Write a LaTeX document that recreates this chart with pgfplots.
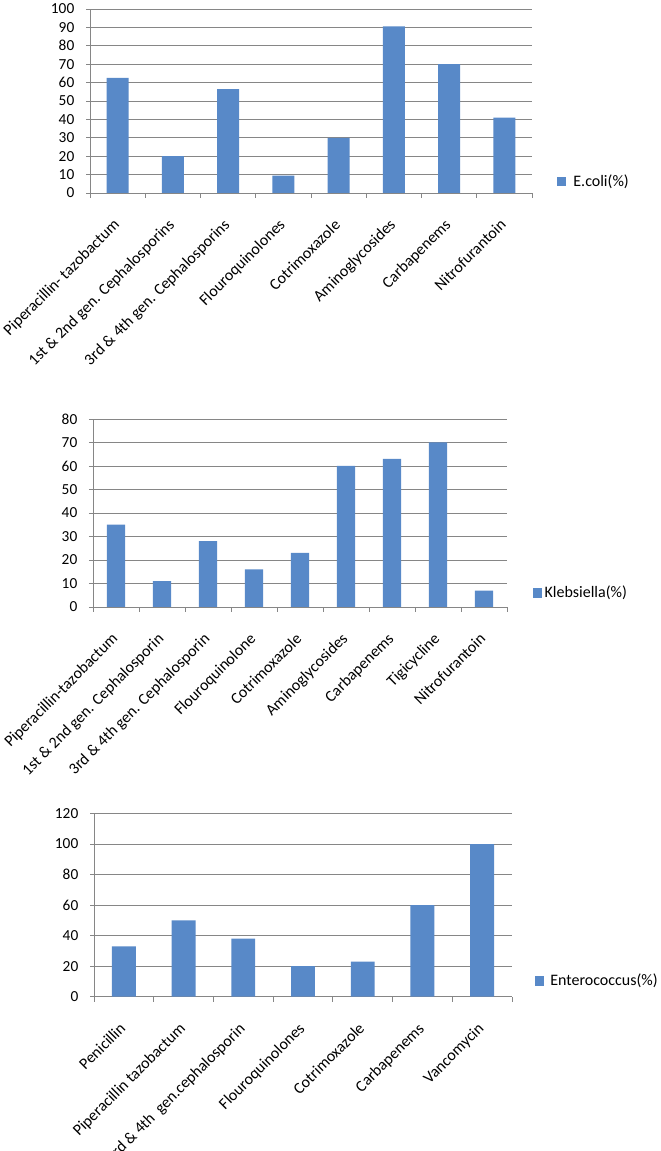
\documentclass[border=0pt]{standalone}
\usepackage{pgfplots}
\pgfplotsset{compat=1.18}
\usepackage{fontspec}
\setmainfont{Carlito}

\definecolor{barblue}{RGB}{88,137,200}
\definecolor{gridgray}{RGB}{134,134,134}

\pgfplotsset{
  excelbar/.style={
    scale only axis,
    ybar,
    bar width=0.4,
    ymin=0,
    axis x line*=bottom,
    axis y line*=left,
    axis line style={gridgray, line width=0.6pt},
    ymajorgrids,
    grid style={gridgray, line width=0.6pt},
    tick align=outside,
    major tick length=3pt,
    minor tick length=3.75pt,
    major x tick style={draw opacity=0},
    minor x tick style={gridgray, line width=0.6pt},
    ytick style={gridgray, line width=0.6pt},
    yticklabel style={font=\fontsize{11.5}{13}\selectfont, xshift=-5.25pt},
    /pgf/number format/assume math mode=true,
    xticklabel style={font=\fontsize{12}{14}\selectfont, xshift=-4pt, yshift=-1.5pt,
      rotate=45, anchor=north east, inner sep=0pt},
    xticklabel shift=14pt,
    legend style={draw=none, fill=none, inner sep=0pt, anchor=west,
      font=\fontsize{12}{14}\selectfont},
    legend image code/.code={\fill[barblue] (0pt,-3.4pt) rectangle (6.8pt,3.4pt);},
  },
}

\begin{document}
\begin{tikzpicture}
\useasboundingbox (0,0) rectangle (495pt,863.25pt);

% E. coli
\begin{axis}[excelbar,
  at={(67.5pt,718.5pt)}, anchor=south west,
  width=331.5pt, height=138pt,
  xmin=-0.5, xmax=7.5, ymax=100, ytick={0,10,...,100},
  xtick={0,...,7},
  minor xtick={-0.5,0.5,...,7.5},
  xticklabels={Piperacillin- tazobactum, 1st \& 2nd gen. Cephalosporins, 3rd \& 4th gen. Cephalosporins, Flouroquinolones, Cotrimoxazole, Aminoglycosides, Carbapenems, Nitrofurantoin},
  legend style={at={(1.056,0.06)},
    /tikz/every odd column/.append style={column sep=3.5pt}},
]
\addplot[fill=barblue, draw=none] coordinates {
  (0,62.5) (1,20) (2,56.5) (3,9.5) (4,30) (5,90.5) (6,70) (7,41)
};
\addlegendentry{E.coli(\%)}
\end{axis}

% Klebsiella
\begin{axis}[excelbar,
  at={(69.75pt,408pt)}, anchor=south west,
  width=310.5pt, height=141pt,
  xmin=-0.5, xmax=8.5, ymax=80, ytick={0,10,...,80},
  xtick={0,...,8},
  minor xtick={-0.5,0.5,...,8.5},
  xticklabels={Piperacillin-tazobactum, 1st \& 2nd gen. Cephalosporin, 3rd \& 4th gen. Cephalosporin, Flouroquinolone, Cotrimoxazole, Aminoglycosides, Carbapenems, Tigicycline, Nitrofurantoin},
  legend style={at={(1.062,0.0745)}},
]
\addplot[fill=barblue, draw=none] coordinates {
  (0,35) (1,11) (2,28) (3,16) (4,23) (5,60) (6,63) (7,70) (8,7)
};
\addlegendentry{Klebsiella(\%)}
\end{axis}

% Enterococcus
\begin{axis}[excelbar,
  at={(70.5pt,115.7pt)}, anchor=south west,
  width=313.5pt, height=137.4pt,
  xmin=-0.5, xmax=6.5, ymax=120, ytick={0,20,...,120},
  xtick={0,...,6},
  minor xtick={-0.5,0.5,...,6.5},
  xticklabels={Penicillin, Piperacillin tazobactum, 3rd \& 4th\ \ gen.cephalosporin, Flouroquinolones, Cotrimoxazole, Carbapenems, Vancomycin},
  legend style={at={(1.055,0.0857)},
    /tikz/every odd column/.append style={column sep=2.5pt}},
]
\addplot[fill=barblue, draw=none] coordinates {
  (0,33) (1,50) (2,38) (3,20) (4,23) (5,60) (6,100)
};
\addlegendentry{Enterococcus(\%)}
\end{axis}
\end{tikzpicture}
\end{document}
